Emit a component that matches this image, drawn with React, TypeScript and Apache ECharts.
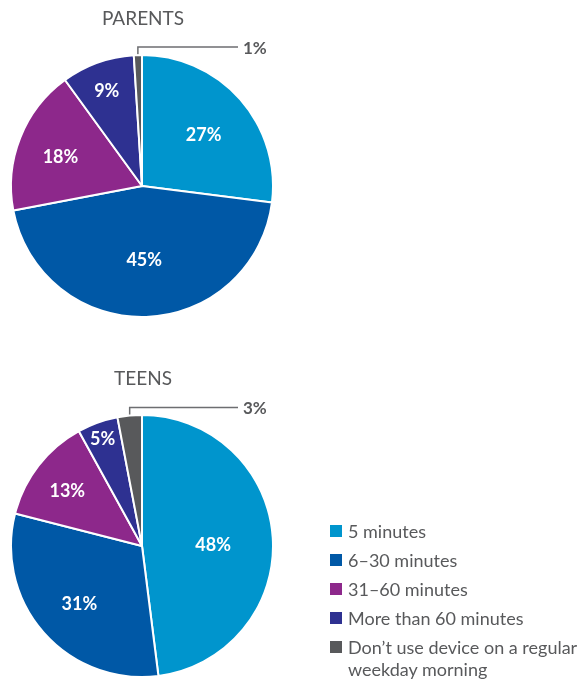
import React, { useEffect, useRef } from "react";
import * as echarts from "echarts";

const categories = [
  "5 minutes",
  "6–30 minutes",
  "31–60 minutes",
  "More than 60 minutes",
  "Don’t use device on a regular weekday morning",
];
const parentsValues = [27, 45, 18, 9, 1];
const teensValues = [48, 31, 13, 5, 3];
const pieTitles = ["PARENTS", "TEENS"];
const sliceColors = ["#0095CD", "#0058A6", "#8D288B", "#2E3191", "#58595B"];

// layout constants
const CX = 142;
const CENTERS_Y = [186, 546];
const R = 131;
const LABEL_FRACTIONS = [
  [0.6, 0.52, 0.64, 0.76, 0],
  [0.52, 0.61, 0.69, 0.85, 0],
];
const LABEL_DY = 2;
const LEADER_END_X = 238;
const FONT = "Lato, 'Open Sans', sans-serif";
const GRAY = "#58595B";

export default function App() {
  const ref = useRef<HTMLDivElement>(null);
  useEffect(() => {
    if (!ref.current) return;
    const chart = echarts.init(ref.current, undefined, { renderer: "svg" });
    const allValues = [parentsValues, teensValues];

    const series = allValues.map((vals, si) => ({
      type: "pie",
      center: [CX, CENTERS_Y[si]],
      radius: R,
      startAngle: 90,
      clockwise: true,
      avoidLabelOverlap: false,
      itemStyle: { borderColor: "#ffffff", borderWidth: 2 },
      label: {
        show: true,
        position: "inside",
        formatter: "{c}%",
        color: "#ffffff",
        fontFamily: FONT,
        fontWeight: "bold",
        fontSize: 18,
      },
      labelLine: { show: false },
      emphasis: { disabled: true },
      data: vals.map((v, i) => {
        const base: any = {
          name: categories[i],
          value: v,
          itemStyle: { color: sliceColors[i] },
        };
        if (i === 4) {
          base.label = {
            position: "outside",
            color: GRAY,
            fontWeight: "bold",
            fontSize: 17,
            fontFamily: FONT,
          };
          base.labelLine = {
            show: true,
            length: 5,
            length2: 10,
            lineStyle: { color: "#6D6E71", width: 1.5 },
          };
        }
        return base;
      }),
      labelLayout: (p: any) => {
        const cy = CENTERS_Y[si];
        if (p.dataIndex === 4) {
          const pts = p.labelLinePoints;
          if (!pts || !pts.length) return {};
          const x0 = pts[0][0];
          const y0 = pts[0][1];
          const yb = y0 - 8;
          return {
            x: LEADER_END_X + 5,
            y: yb,
            align: "left",
            verticalAlign: "middle",
            labelLinePoints: [
              [x0, y0],
              [x0, yb],
              [LEADER_END_X, yb],
            ],
          };
        }
        const lr = p.labelRect;
        const lx = lr.x + lr.width / 2;
        const ly = lr.y + lr.height / 2;
        const k = LABEL_FRACTIONS[si][p.dataIndex] / 0.5;
        return { dx: (lx - CX) * (k - 1), dy: (ly - cy) * (k - 1) + LABEL_DY };
      },
    }));

    chart.setOption({
      animation: false,
      title: pieTitles.map((t, i) => ({
        text: t,
        left: CX + 1,
        textAlign: "center",
        top: CENTERS_Y[i] - 179,
        padding: 0,
        textStyle: {
          fontFamily: FONT,
          fontWeight: "normal",
          fontSize: 19,
          lineHeight: 20,
          color: GRAY,
        },
      })),
      legend: [
        {
          orient: "vertical",
          left: 328,
          top: 520,
          padding: 0,
          itemWidth: 14,
          itemHeight: 14,
          itemGap: 7,
          icon: "rect",
          selectedMode: false,
          data: categories.slice(0, 4),
          textStyle: {
            fontFamily: FONT,
            fontSize: 18,
            lineHeight: 22,
            color: GRAY,
          },
        },
        {
          orient: "vertical",
          left: 328,
          top: 614,
          padding: 0,
          itemWidth: 14,
          itemHeight: 14,
          icon: "rect",
          selectedMode: false,
          data: categories.slice(4),
          formatter: () => "\nDon’t use device on a regular\nweekday morning",
          textStyle: {
            fontFamily: FONT,
            fontSize: 18,
            lineHeight: 22,
            color: GRAY,
          },
        },
      ],
      series,
    });
    return () => chart.dispose();
  }, []);
  return (
    <div
      ref={ref}
      style={{ position: "fixed", left: 0, top: 0, width: 581, height: 679 }}
    />
  );
}
